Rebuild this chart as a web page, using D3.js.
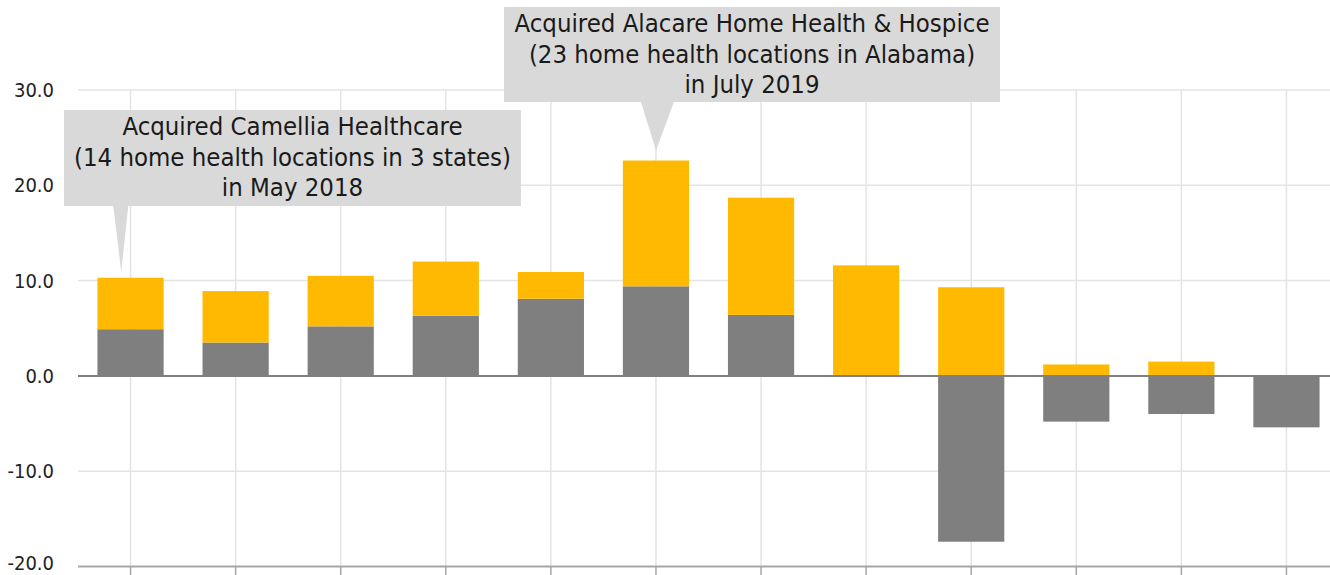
<!DOCTYPE html>
<html>
<head>
<meta charset="utf-8">
<script src="https://cdn.jsdelivr.net/npm/d3@7/dist/d3.min.js"></script>
<style>
  html, body { margin: 0; padding: 0; background: #ffffff; }
  svg { display: block; }
</style>
</head>
<body>
<svg id="chart" width="1330" height="575"></svg>
<script>
// ---- data ----
const categories = ["Q2 2018","Q3 2018","Q4 2018","Q1 2019","Q2 2019","Q3 2019","Q4 2019","Q1 2020","Q2 2020","Q3 2020","Q4 2020","Q1 2021"];
const organicGrowth = [4.9, 3.5, 5.2, 6.3, 8.1, 9.4, 6.4, 0.0, -17.4, -4.8, -4.0, -5.4];
const acquisitionGrowth = [5.4, 5.4, 5.3, 5.7, 2.8, 13.2, 12.3, 11.6, 9.3, 1.2, 1.5, 0.0];
const yTicks = [-20, -10, 0, 10, 20, 30];
const seriesNames = ["Organic", "Acquisition"];
const annotations = [
  { category: "Q2 2018", lines: ["Acquired Camellia Healthcare", "(14 home health locations in 3 states)", "in May 2018"] },
  { category: "Q3 2019", lines: ["Acquired Alacare Home Health & Hospice", "(23 home health locations in Alabama)", "in July 2019"] }
];

// ---- layout / style ----
const W = 1330, H = 575;
const plot = { left: 78, right: 1339, top: 90, bottom: 566.5 };
const colors = { Organic: "#7f7f7f", Acquisition: "#ffb900" };
const FONT = "'DejaVu Sans Condensed', 'DejaVu Sans', sans-serif";

const svg = d3.select("#chart");

const x = d3.scaleBand().domain(categories).range([plot.left, plot.right])
  .paddingInner(0.37).paddingOuter(0.185);
const y = d3.scaleLinear().domain([-20, 30]).range([plot.bottom, plot.top]);

const table = categories.map((c, i) => ({ category: c, Organic: organicGrowth[i], Acquisition: acquisitionGrowth[i] }));
const stacked = d3.stack().keys(seriesNames).offset(d3.stackOffsetDiverging)(table);

// horizontal gridlines
svg.append("g").selectAll("line").data(yTicks.filter(t => t !== 0 && t !== -20)).join("line")
  .attr("x1", plot.left).attr("x2", W)
  .attr("y1", d => y(d)).attr("y2", d => y(d))
  .attr("stroke", "#e4e4e4").attr("stroke-width", 1.5);

// vertical gridlines at category centres
svg.append("g").selectAll("line").data(categories).join("line")
  .attr("x1", d => x(d) + x.bandwidth() / 2).attr("x2", d => x(d) + x.bandwidth() / 2)
  .attr("y1", plot.top).attr("y2", plot.bottom)
  .attr("stroke", "#e4e4e4").attr("stroke-width", 1.5);

// bottom axis with ticks, no labels
const xAxis = svg.append("g").attr("transform", `translate(0,${y(-20)})`)
  .call(d3.axisBottom(x).tickSize(9).tickSizeOuter(0).tickFormat(""));
xAxis.select(".domain").remove();
xAxis.selectAll(".tick line").attr("stroke", "#a6a6a6").attr("stroke-width", 1.5);
svg.append("line").attr("x1", plot.left).attr("x2", W)
  .attr("y1", y(-20)).attr("y2", y(-20))
  .attr("stroke", "#a6a6a6").attr("stroke-width", 2);

// y axis labels (hyphen minus as in the reference)
const fmt = d => d3.format(".1f")(d).replace("\u2212", "-");
const yAxis = svg.append("g").attr("transform", `translate(${plot.left - 24},0)`)
  .call(d3.axisLeft(y).tickValues(yTicks).tickSize(0).tickFormat(fmt));
yAxis.select(".domain").remove();
yAxis.selectAll("text").attr("font-family", FONT).attr("font-size", 20).attr("fill", "#222").attr("x", 0)
  .attr("dy", d => d === -20 ? "0.16em" : "0.32em");

// bars
svg.append("g").selectAll("g").data(stacked).join("g")
  .attr("fill", d => colors[d.key])
  .selectAll("rect").data(d => d).join("rect")
  .attr("x", d => x(d.data.category))
  .attr("width", x.bandwidth())
  .attr("y", d => y(Math.max(d[0], d[1])))
  .attr("height", d => Math.abs(y(d[0]) - y(d[1])));

// zero line
svg.append("line").attr("x1", plot.left).attr("x2", W)
  .attr("y1", y(0)).attr("y2", y(0))
  .attr("stroke", "#7f7f7f").attr("stroke-width", 2);

// annotations (callouts)
const boxes = [
  { x0: 64, x1: 521, y0: 110, y1: 206, baseL: -8, baseR: 7, tipDx: -0.14, gap: 6 },
  { x0: 504, x1: 1000, y0: 7, y1: 102, baseL: -15, baseR: 18, tipDx: 0.0, gap: 10 }
];
const total = c => { const i = categories.indexOf(c); return Math.max(0, organicGrowth[i]) + acquisitionGrowth[i]; };
annotations.forEach((a, k) => {
  const b = boxes[k];
  const tx = x(a.category) + x.bandwidth() * (0.5 + b.tipDx);
  const ty = y(total(a.category)) - b.gap;
  const path = d3.path();
  path.moveTo(b.x0, b.y0); path.lineTo(b.x1, b.y0); path.lineTo(b.x1, b.y1);
  path.lineTo(tx + b.baseR, b.y1); path.lineTo(tx, ty); path.lineTo(tx + b.baseL, b.y1);
  path.lineTo(b.x0, b.y1); path.closePath();
  svg.append("path").attr("d", path.toString()).attr("fill", "#d9d9d9");
  const cx = (b.x0 + b.x1) / 2;
  svg.append("text").attr("text-anchor", "middle")
    .attr("font-family", FONT).attr("font-size", 25.5).attr("fill", "#1a1a1a")
    .selectAll("tspan").data(a.lines).join("tspan")
    .attr("x", cx).attr("y", (d, i) => b.y0 + 25 + i * 30.5)
    .text(d => d);
});
</script>
</body>
</html>
